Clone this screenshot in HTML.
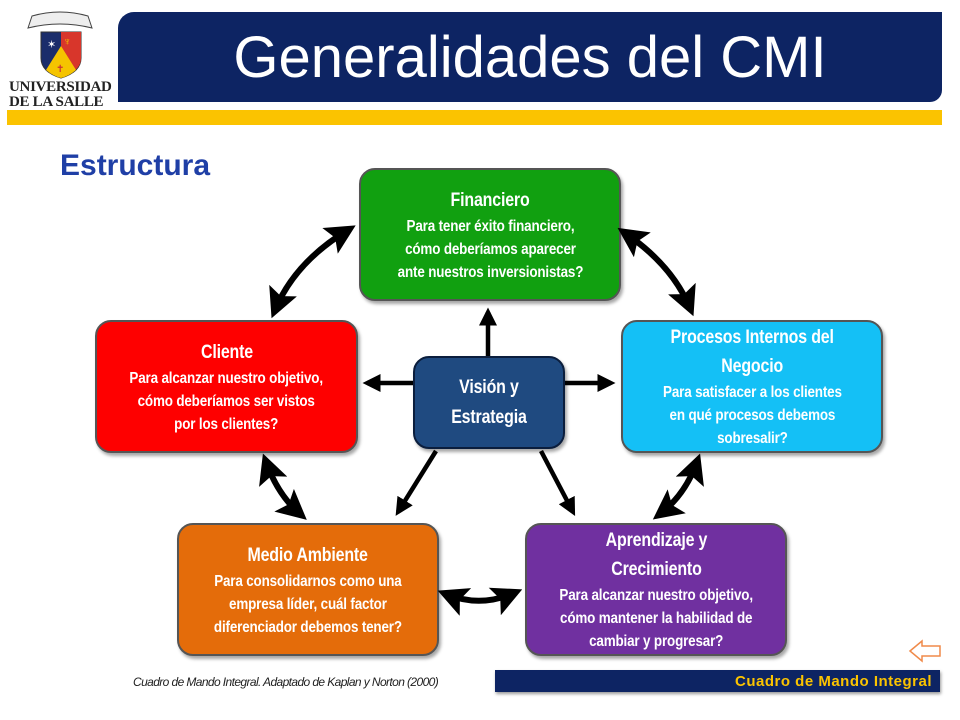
<!DOCTYPE html>
<html><head><meta charset="utf-8"><style>
body{margin:0;width:960px;height:720px;background:#fff;position:relative;overflow:hidden;font-family:"Liberation Sans",sans-serif}
.box{position:absolute;border:2px solid #555;border-radius:16px;color:#fff;font-weight:bold;text-align:center;box-sizing:border-box;display:flex;flex-direction:column;justify-content:center;align-items:center;box-shadow:2px 3px 3px rgba(0,0,0,.35)}
.box>div{white-space:nowrap;transform:scaleX(0.84);letter-spacing:-0.2px}
.t{font-size:19px;line-height:29px}
.s{font-size:16px;line-height:23px}
</style></head><body>
<svg style="position:absolute;left:8px;top:8px" width="104" height="76">
<path d="M24 8 Q52 0 80 8 L84 20 Q52 12 20 20 Z" fill="#eee" stroke="#444"/>
<path d="M33 24 H73 V50 Q73 64 53 70 Q33 64 33 50 Z" fill="#1b2d6b" stroke="#333"/>
<path d="M53 24 H73 V50 Q73 58 66 63 L53 42 Z" fill="#d8362b"/>
<path d="M38 62 L53 38 L68 62 Q61 68 53 70 Q45 68 38 62Z" fill="#f5c400"/>
<text x="39" y="40" fill="#fff" font-size="11">✶</text>
<text x="55" y="37" fill="#f5c400" font-size="11">♆</text>
<text x="48" y="64" fill="#c33" font-size="10">✝</text>
</svg>
<div style="position:absolute;left:9px;top:80px;font-family:'Liberation Serif',serif;font-weight:bold;font-size:15px;line-height:15px;color:#222;letter-spacing:-0.3px">UNIVERSIDAD<br><span style="border-bottom:1px solid #222">DE LA SALLE</span></div>
<div style="position:absolute;left:118px;top:12px;width:824px;height:90px;background:#0d2463;border-radius:16px 0 12px 0;"></div>
<div style="position:absolute;left:118px;top:20px;width:824px;text-align:center;color:#fff;font-size:58px;line-height:76px">Generalidades del CMI</div>
<div style="position:absolute;left:7px;top:110px;width:935px;height:15px;background:#fbc300"></div>
<div style="position:absolute;left:60px;top:149px;color:#1f3fa6;font-weight:bold;font-size:30px">Estructura</div>

<div class="box" style="left:359px;top:168px;width:262px;height:133px;background:#11a010"><div class="t">Financiero</div><div class="s">Para tener éxito financiero,<br>cómo deberíamos aparecer<br>ante nuestros inversionistas?</div></div>
<div class="box" style="left:95px;top:320px;width:263px;height:133px;background:#fe0000"><div class="t">Cliente</div><div class="s">Para alcanzar nuestro objetivo,<br>cómo deberíamos ser vistos<br>por los clientes?</div></div>
<div class="box" style="left:621px;top:320px;width:262px;height:133px;background:#14c0f6"><div class="t">Procesos Internos del<br>Negocio</div><div class="s">Para satisfacer a los clientes<br>en qué procesos debemos<br>sobresalir?</div></div>
<div class="box" style="left:413px;top:356px;width:152px;height:93px;background:#1f4a80;border-color:#0b1e3d"><div class="t" style="line-height:30px">Visión y<br>Estrategia</div></div>
<div class="box" style="left:177px;top:523px;width:262px;height:133px;background:#e46c0a"><div class="t">Medio Ambiente</div><div class="s">Para consolidarnos como una<br>empresa líder, cuál factor<br>diferenciador debemos tener?</div></div>
<div class="box" style="left:525px;top:523px;width:262px;height:133px;background:#7030a0"><div class="t">Aprendizaje y<br>Crecimiento</div><div class="s">Para alcanzar nuestro objetivo,<br>cómo mantener la habilidad de<br>cambiar y progresar?</div></div>

<svg style="position:absolute;left:0;top:0" width="960" height="720">
<defs><marker id="a" markerWidth="5" markerHeight="5" refX="3.5" refY="2.5" orient="auto-start-reverse" markerUnits="strokeWidth"><path d="M0 0 L5 2.5 L0 5 L1 2.5Z" fill="#000"/></marker>
<marker id="b" markerWidth="4" markerHeight="4" refX="3" refY="2" orient="auto" markerUnits="strokeWidth"><path d="M0 0 L4 2 L0 4Z" fill="#000"/></marker></defs>
<g fill="none" stroke="#000" stroke-width="6">
<path d="M348 230 Q295 262 275 310" marker-start="url(#a)" marker-end="url(#a)"/>
<path d="M625 233 Q672 265 690 308" marker-start="url(#a)" marker-end="url(#a)"/>
<path d="M266 462 Q278 495 300 514" marker-start="url(#a)" marker-end="url(#a)"/>
<path d="M697 462 Q685 495 660 514" marker-start="url(#a)" marker-end="url(#a)"/>
<path d="M446 594 Q480 608 514 593" marker-start="url(#a)" marker-end="url(#a)"/>
</g>
<g fill="none" stroke="#000" stroke-width="4.5">
<line x1="488" y1="356" x2="488" y2="312" marker-end="url(#b)"/>
<line x1="413" y1="383" x2="367" y2="383" marker-end="url(#b)"/>
<line x1="565" y1="383" x2="611" y2="383" marker-end="url(#b)"/>
<line x1="436" y1="451" x2="398" y2="512" marker-end="url(#b)"/>
<line x1="541" y1="451" x2="573" y2="512" marker-end="url(#b)"/>
</g>
<path d="M910 651 L922 641 V646 H940 V656 H922 V661Z" fill="#fff" stroke="#f08a4a" stroke-width="1.5"/>
</svg>
<div style="position:absolute;left:133px;top:675px;font-size:12px;font-style:italic;color:#222;letter-spacing:-0.6px;white-space:nowrap">Cuadro de Mando Integral. Adaptado de Kaplan y Norton (2000)</div>
<div style="position:absolute;left:495px;top:670px;width:445px;height:22px;background:#0d2463;box-shadow:1px 2px 3px rgba(0,0,0,.4)"></div>
<div style="position:absolute;left:495px;top:672px;width:437px;text-align:right;color:#fbc300;font-weight:bold;font-size:15px;line-height:20px;letter-spacing:0.5px">Cuadro de Mando Integral</div>
</body></html>
